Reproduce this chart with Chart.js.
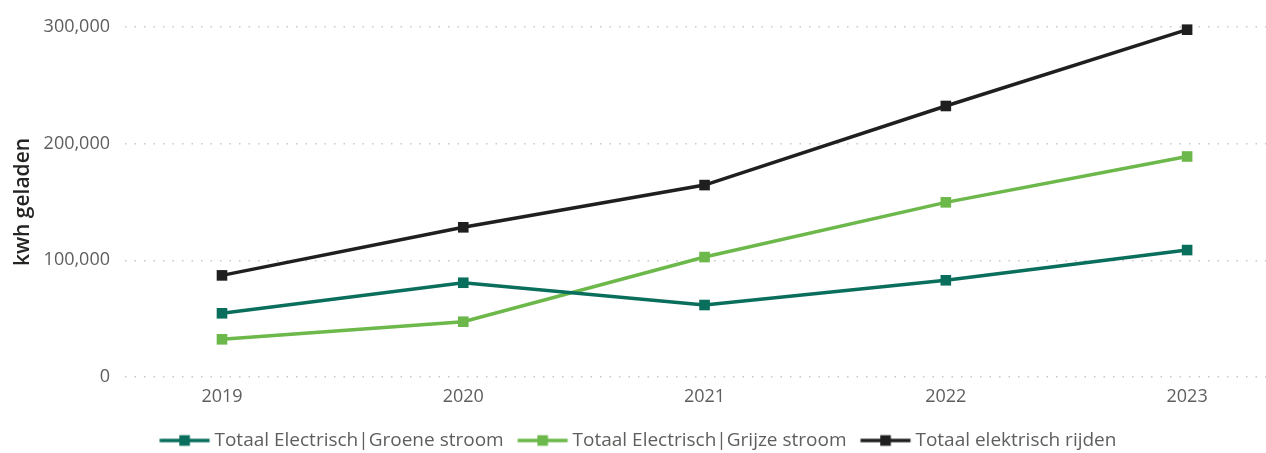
<!DOCTYPE html>
<html>
<head>
<meta charset="utf-8">
<script src="https://cdn.jsdelivr.net/npm/chart.js@4/dist/chart.umd.min.js"></script>
<style>
  html, body { margin: 0; padding: 0; background: #ffffff; overflow: hidden; }
  #wrap { width: 1266px; height: 453px; position: relative; overflow: hidden; }
</style>
</head>
<body>
<div id="wrap"><canvas id="c"></canvas></div>
<script>
const years = [2019, 2020, 2021, 2022, 2023];
const groeneStroom = [54600, 80800, 61700, 82900, 108800];
const grijzeStroom = [32300, 47400, 102800, 149700, 189000];
const totaalElektrisch = [87100, 128300, 164500, 232300, 297700];
const seriesNames = ['Totaal Electrisch|Groene stroom', 'Totaal Electrisch|Grijze stroom', 'Totaal elektrisch rijden'];
const seriesColors = ['#0a6e5c', '#6cb84a', '#1f1f1f'];
const yTicks = [0, 100000, 200000, 300000];
const yTitle = 'kwh geladen';

function legendIcon(color) {
  const c = document.createElement('canvas');
  c.width = 70; c.height = 16;
  const ctx = c.getContext('2d');
  ctx.strokeStyle = color; ctx.lineWidth = 3.5;
  ctx.beginPath(); ctx.moveTo(17.3, 8); ctx.lineTo(67.3, 8); ctx.stroke();
  ctx.fillStyle = color; ctx.fillRect(37, 2.7, 10.6, 10.6);
  return c;
}

const allSeries = [groeneStroom, grijzeStroom, totaalElektrisch];
const datasets = allSeries.map((vals, i) => ({
  label: seriesNames[i],
  data: years.map((y, j) => ({ x: y, y: vals[j] })),
  borderColor: seriesColors[i],
  backgroundColor: seriesColors[i],
  borderWidth: 3.5,
  pointStyle: 'rect',
  pointRadius: 7.5,
  pointHoverRadius: 7.5,
  pointBorderWidth: 0,
  tension: 0,
  clip: false,
  legendIcon: legendIcon(seriesColors[i])
}));

new Chart(document.getElementById('c'), {
  type: 'line',
  data: { datasets: datasets },
  options: {
    responsive: true,
    maintainAspectRatio: false,
    animation: false,
    layout: { autoPadding: false, padding: { top: 27, right: 0, bottom: -7, left: 0 } },
    plugins: {
      tooltip: { enabled: false },
      legend: {
        position: 'bottom',
        labels: {
          usePointStyle: true,
          pointStyleWidth: 55.4,
          padding: 4,
          color: '#605e5c',
          font: { family: '"Open Sans"', size: 19 },
          generateLabels(chart) {
            return chart.data.datasets.map((ds, i) => ({
              text: ds.label,
              fillStyle: ds.borderColor,
              strokeStyle: ds.borderColor,
              fontColor: '#605e5c',
              pointStyle: ds.legendIcon,
              lineWidth: 0,
              hidden: false,
              datasetIndex: i
            }));
          }
        }
      }
    },
    scales: {
      x: {
        type: 'linear',
        min: 2018.598,
        max: 2023.327,
        grid: { display: false, drawTicks: false },
        border: { display: false },
        afterBuildTicks(scale) { scale.ticks = years.map(v => ({ value: v })); },
        afterFit(scale) { scale.height = 50; scale.paddingLeft = 0; scale.paddingRight = 0; },
        ticks: {
          padding: 9.5,
          color: '#605e5c',
          font: { family: '"Open Sans"', size: 18 },
          callback: (v) => String(v)
        }
      },
      y: {
        min: 0,
        max: 300000,
        afterBuildTicks(scale) { scale.ticks = yTicks.map(v => ({ value: v })); },
        afterFit(scale) { scale.width = 125; scale.paddingTop = 0; scale.paddingBottom = 0; },
        grid: { color: '#c8c8c8', lineWidth: 1.5, drawTicks: false },
        border: { display: false, dash: [1.5, 8] },
        ticks: {
          padding: 15,
          color: '#605e5c',
          font: { family: '"Open Sans"', size: 18 },
          callback: (v) => v.toLocaleString('en-US')
        },
        title: {
          display: true,
          text: yTitle,
          color: '#252423',
          padding: { top: 10, bottom: 0 },
          font: { family: '"Open Sans"', size: 21, weight: '600' }
        }
      }
    }
  }
});
</script>
</body>
</html>
